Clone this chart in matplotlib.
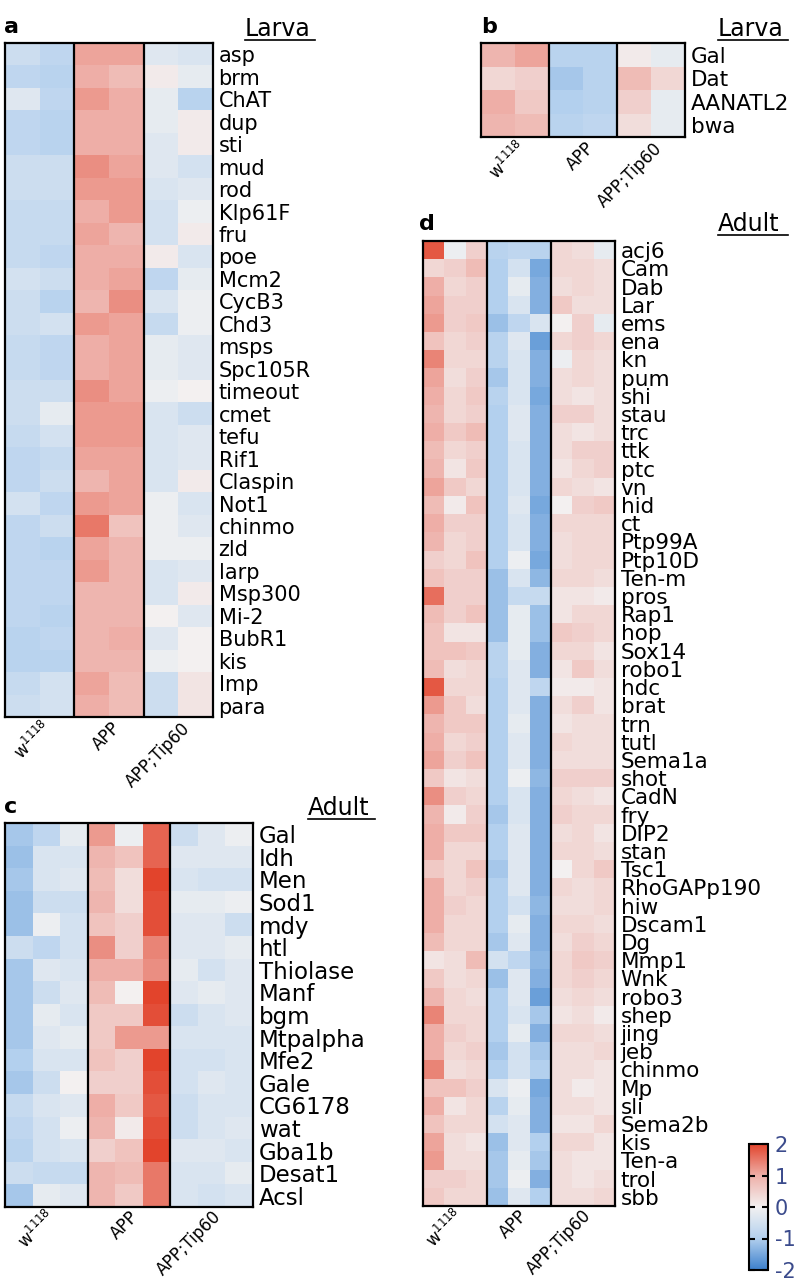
import numpy as np
import matplotlib
matplotlib.use('Agg')
import matplotlib.pyplot as plt
from matplotlib.colors import LinearSegmentedColormap
from matplotlib.lines import Line2D

plt.rcParams['font.family'] = ['DejaVu Sans']

groups = [r'$\mathregular{w^{1118}}$', 'APP', 'APP;Tip60']

# ---------------- Panel a (Larva) ----------------
genes_a = ['asp', 'brm', 'ChAT', 'dup', 'sti', 'mud', 'rod', 'Klp61F', 'fru', 'poe',
           'Mcm2', 'CycB3', 'Chd3', 'msps', 'Spc105R', 'timeout', 'cmet', 'tefu', 'Rif1',
           'Claspin', 'Not1', 'chinmo', 'zld', 'larp', 'Msp300', 'Mi-2', 'BubR1', 'kis',
           'Imp', 'para']
vals_a = [
    [-0.6, -0.8, 1.1, 1.1, -0.3, -0.4],
    [-0.8, -0.9, 1.0, 0.8, 0.1, -0.2],
    [-0.3, -0.8, 1.2, 1.0, -0.2, -0.9],
    [-0.8, -0.9, 1.0, 1.0, -0.2, 0.1],
    [-0.8, -0.9, 1.0, 1.0, -0.3, 0.1],
    [-0.6, -0.6, 1.3, 1.1, -0.3, -0.5],
    [-0.6, -0.6, 1.2, 1.2, -0.4, -0.3],
    [-0.7, -0.7, 1.0, 1.2, -0.5, -0.1],
    [-0.7, -0.7, 1.1, 0.9, -0.5, 0.1],
    [-0.7, -0.8, 1.0, 1.0, 0.1, -0.4],
    [-0.5, -0.6, 1.0, 1.1, -0.8, -0.2],
    [-0.6, -0.9, 0.9, 1.3, -0.4, -0.1],
    [-0.6, -0.5, 1.2, 1.1, -0.7, -0.1],
    [-0.7, -0.8, 1.0, 1.1, -0.2, -0.3],
    [-0.7, -0.8, 1.0, 1.1, -0.2, -0.3],
    [-0.6, -0.6, 1.3, 1.1, -0.1, 0.0],
    [-0.6, -0.2, 1.2, 1.2, -0.4, -0.6],
    [-0.7, -0.5, 1.2, 1.2, -0.4, -0.3],
    [-0.8, -0.7, 1.1, 1.1, -0.4, -0.3],
    [-0.8, -0.6, 0.9, 1.1, -0.4, 0.1],
    [-0.5, -0.8, 1.2, 1.1, -0.1, -0.4],
    [-0.8, -0.6, 1.5, 0.7, -0.1, -0.3],
    [-0.8, -0.9, 1.1, 0.9, -0.1, -0.1],
    [-0.8, -0.8, 1.2, 0.9, -0.4, -0.3],
    [-0.8, -0.8, 0.9, 0.9, -0.4, 0.1],
    [-0.8, -0.9, 0.9, 0.9, 0.0, -0.3],
    [-0.9, -0.8, 0.9, 1.0, -0.3, 0.0],
    [-0.9, -0.9, 0.9, 0.9, -0.1, 0.0],
    [-0.7, -0.5, 1.1, 0.8, -0.6, 0.2],
    [-0.6, -0.5, 1.0, 0.8, -0.6, 0.2],
]

# ---------------- Panel b (Larva) ----------------
genes_b = ['Gal', 'Dat', 'AANATL2', 'bwa']
vals_b = [
    [0.9, 1.1, -0.9, -0.9, 0.1, -0.2],
    [0.4, 0.5, -1.1, -0.9, 0.8, 0.4],
    [1.0, 0.6, -1.0, -0.9, 0.5, -0.2],
    [0.9, 0.8, -0.9, -0.8, 0.3, -0.2],
]

# ---------------- Panel c (Adult) ----------------
genes_c = ['Gal', 'Idh', 'Men', 'Sod1', 'mdy', 'htl', 'Thiolase', 'Manf', 'bgm',
           'Mtpalpha', 'Mfe2', 'Gale', 'CG6178', 'wat', 'Gba1b', 'Desat1', 'Acsl']
vals_c = [
    [-1.1, -0.8, -0.2, 1.2, -0.1, 1.7, -0.6, -0.3, -0.1],
    [-1.2, -0.4, -0.4, 0.9, 0.7, 1.7, -0.3, -0.3, -0.3],
    [-1.1, -0.4, -0.3, 0.8, 0.3, 2.0, -0.4, -0.5, -0.5],
    [-1.2, -0.6, -0.6, 0.9, 0.3, 1.9, -0.2, -0.2, -0.1],
    [-1.2, -0.1, -0.5, 0.7, 0.5, 1.9, -0.3, -0.3, -0.6],
    [-0.6, -0.8, -0.5, 1.3, 0.5, 1.4, -0.3, -0.3, -0.2],
    [-1.1, -0.3, -0.4, 1.0, 1.0, 1.3, -0.2, -0.5, -0.3],
    [-1.1, -0.6, -0.3, 0.8, 0.0, 2.0, -0.3, -0.2, -0.3],
    [-1.1, -0.2, -0.4, 0.6, 0.6, 1.9, -0.6, -0.4, -0.3],
    [-1.1, -0.3, -0.2, 0.6, 1.2, 1.2, -0.4, -0.4, -0.4],
    [-1.0, -0.4, -0.4, 0.7, 0.5, 2.0, -0.5, -0.5, -0.4],
    [-1.1, -0.6, 0.0, 0.5, 0.5, 1.9, -0.5, -0.3, -0.4],
    [-0.7, -0.4, -0.3, 1.0, 0.6, 1.8, -0.6, -0.4, -0.4],
    [-0.8, -0.5, -0.1, 0.9, 0.1, 1.9, -0.6, -0.4, -0.3],
    [-0.9, -0.5, -0.4, 0.5, 0.7, 2.0, -0.3, -0.3, -0.4],
    [-0.6, -0.7, -0.7, 0.9, 0.8, 1.5, -0.4, -0.4, -0.2],
    [-1.1, -0.2, -0.3, 0.9, 0.6, 1.5, -0.4, -0.5, -0.4],
]

# ---------------- Panel d (Adult) ----------------
genes_d = ['acj6', 'Cam', 'Dab', 'Lar', 'ems', 'ena', 'kn', 'pum', 'shi', 'stau',
           'trc', 'ttk', 'ptc', 'vn', 'hid', 'ct', 'Ptp99A', 'Ptp10D', 'Ten-m', 'pros',
           'Rap1', 'hop', 'Sox14', 'robo1', 'hdc', 'brat', 'trn', 'tutl', 'Sema1a', 'shot',
           'CadN', 'fry', 'DIP2', 'stan', 'Tsc1', 'RhoGAPp190', 'hiw', 'Dscam1', 'Dg', 'Mmp1',
           'Wnk', 'robo3', 'shep', 'jing', 'jeb', 'chinmo', 'Mp', 'sli', 'Sema2b', 'kis',
           'Ten-a', 'trol', 'sbb']
vals_d = [
    [1.8, -0.1, 0.5, -0.9, -0.8, -0.9, 0.4, 0.3, -0.2],
    [0.4, 0.5, 0.8, -1.0, -0.5, -1.5, 0.4, 0.4, 0.3],
    [1.0, 0.4, 0.5, -1.0, -0.2, -1.4, 0.3, 0.4, 0.3],
    [1.1, 0.5, 0.5, -1.0, -0.4, -1.4, 0.6, 0.3, 0.3],
    [1.2, 0.5, 0.6, -1.2, -0.8, -0.4, 0.0, 0.5, -0.2],
    [0.7, 0.4, 0.5, -0.9, -0.3, -1.6, 0.4, 0.5, 0.4],
    [1.4, 0.4, 0.4, -0.9, -0.4, -1.4, -0.1, 0.4, 0.3],
    [1.1, 0.3, 0.5, -1.1, -0.4, -1.4, 0.3, 0.4, 0.3],
    [1.0, 0.4, 0.6, -0.9, -0.4, -1.5, 0.3, 0.2, 0.3],
    [0.9, 0.4, 0.5, -1.0, -0.3, -1.4, 0.5, 0.5, 0.3],
    [1.0, 0.6, 0.8, -1.0, -0.3, -1.4, 0.3, 0.2, 0.3],
    [0.8, 0.4, 0.5, -1.0, -0.4, -1.4, 0.3, 0.5, 0.5],
    [0.9, 0.2, 0.6, -1.0, -0.4, -1.4, 0.2, 0.4, 0.5],
    [1.1, 0.6, 0.4, -1.0, -0.4, -1.4, 0.4, 0.3, 0.2],
    [0.8, 0.1, 0.7, -1.0, -0.3, -1.5, 0.0, 0.5, 0.6],
    [1.0, 0.5, 0.5, -1.0, -0.4, -1.4, 0.4, 0.4, 0.4],
    [0.9, 0.4, 0.5, -1.0, -0.4, -1.4, 0.3, 0.4, 0.4],
    [0.5, 0.4, 0.7, -1.0, -0.1, -1.5, 0.3, 0.4, 0.4],
    [0.7, 0.5, 0.5, -1.2, -0.4, -1.3, 0.4, 0.4, 0.3],
    [1.6, 0.5, 0.5, -1.2, -0.7, -0.7, 0.2, 0.2, 0.1],
    [0.8, 0.5, 0.7, -1.2, -0.2, -1.2, 0.2, 0.4, 0.4],
    [0.7, 0.2, 0.2, -1.2, -0.2, -1.2, 0.6, 0.5, 0.4],
    [0.7, 0.7, 0.6, -0.9, -0.2, -1.4, 0.4, 0.4, 0.2],
    [0.8, 0.3, 0.4, -0.9, -0.3, -1.4, 0.2, 0.6, 0.3],
    [1.8, 0.4, 0.4, -1.0, -0.3, -0.8, 0.1, 0.1, 0.2],
    [1.2, 0.6, 0.3, -1.0, -0.3, -1.4, 0.3, 0.5, 0.2],
    [0.9, 0.6, 0.6, -1.0, -0.2, -1.4, 0.2, 0.3, 0.3],
    [1.0, 0.4, 0.5, -1.0, -0.3, -1.4, 0.4, 0.3, 0.3],
    [1.1, 0.5, 0.7, -1.0, -0.3, -1.4, 0.3, 0.3, 0.3],
    [0.6, 0.2, 0.3, -1.0, -0.1, -1.3, 0.5, 0.5, 0.5],
    [1.3, 0.5, 0.4, -1.0, -0.4, -1.4, 0.4, 0.3, 0.2],
    [0.9, 0.1, 0.5, -1.1, -0.4, -1.4, 0.5, 0.4, 0.4],
    [1.0, 0.6, 0.6, -1.0, -0.3, -1.4, 0.3, 0.4, 0.2],
    [1.0, 0.4, 0.4, -1.0, -0.3, -1.4, 0.4, 0.4, 0.3],
    [0.6, 0.4, 0.7, -1.1, -0.3, -1.4, 0.0, 0.4, 0.6],
    [1.0, 0.4, 0.5, -1.0, -0.3, -1.4, 0.4, 0.3, 0.4],
    [1.0, 0.5, 0.4, -1.0, -0.5, -1.3, 0.3, 0.3, 0.4],
    [1.0, 0.4, 0.4, -1.0, -0.2, -1.4, 0.4, 0.4, 0.3],
    [0.8, 0.4, 0.4, -1.1, -0.3, -1.4, 0.3, 0.5, 0.4],
    [0.2, 0.3, 0.8, -0.5, -0.8, -1.3, 0.4, 0.6, 0.5],
    [0.6, 0.3, 0.4, -1.2, -0.3, -1.4, 0.4, 0.5, 0.4],
    [0.9, 0.4, 0.3, -1.0, -0.3, -1.6, 0.3, 0.4, 0.3],
    [1.4, 0.4, 0.4, -1.0, -0.4, -1.1, 0.2, 0.3, 0.1],
    [1.0, 0.5, 0.4, -1.0, -0.2, -1.4, 0.4, 0.4, 0.3],
    [1.0, 0.4, 0.5, -1.1, -0.5, -1.1, 0.3, 0.3, 0.4],
    [1.4, 0.3, 0.4, -1.0, -0.5, -1.0, 0.3, 0.3, 0.2],
    [0.7, 0.7, 0.5, -0.4, -0.1, -1.5, 0.3, 0.1, 0.2],
    [1.0, 0.2, 0.4, -0.9, -0.2, -1.4, 0.3, 0.3, 0.2],
    [0.7, 0.4, 0.4, -0.5, -0.3, -1.4, 0.2, 0.2, 0.4],
    [1.1, 0.3, 0.2, -1.2, -0.3, -1.0, 0.4, 0.4, 0.2],
    [1.2, 0.3, 0.3, -1.1, -0.2, -1.1, 0.3, 0.2, 0.2],
    [0.5, 0.5, 0.4, -1.1, -0.1, -1.4, 0.3, 0.2, 0.3],
    [0.6, 0.4, 0.4, -1.2, -0.3, -1.0, 0.3, 0.3, 0.4],
]

cbar_ticks = [-2, -1, 0, 1, 2]
cbar_labels = ['-2', '-1', '0', '1', '2']

cmap = LinearSegmentedColormap.from_list(
    'bwr_soft', ['#3B7FCB', '#B3D0EE', '#F3F1F1', '#EEAFA8', '#E2442C'])

W, H = 800, 1285
fig = plt.figure(figsize=(W / 100, H / 100), dpi=100)


def px_axes(x0, y0, x1, y1):
    return fig.add_axes([x0 / W, 1 - y1 / H, (x1 - x0) / W, (y1 - y0) / H])


def heat(ax, genes, vals, reps, label_size, tick_size, tick_pad):
    data = np.array(vals)
    nrow, ncol = data.shape
    ax.pcolormesh(np.arange(ncol + 1), np.arange(nrow + 1), data,
                  cmap=cmap, vmin=-2, vmax=2)
    ax.set_xlim(0, ncol)
    ax.set_ylim(nrow, 0)
    for k in (1, 2):
        ax.axvline(k * reps, color='black', lw=1.6)
    ax.yaxis.tick_right()
    ax.set_yticks(np.arange(nrow) + 0.5)
    ax.set_yticklabels(genes, fontsize=label_size)
    ax.tick_params(axis='y', length=0, pad=4)
    ax.set_xticks([reps * (k + 0.5) + 0.25 for k in range(3)])
    ax.set_xticklabels(groups, rotation=45, ha='right', va='center',
                       rotation_mode='anchor', fontsize=tick_size)
    ax.tick_params(axis='x', length=0, pad=tick_pad)
    for s in ax.spines.values():
        s.set_linewidth(1.6)


def ftext(x, y, s, **kw):
    fig.text(x / W, 1 - y / H, s, va='baseline', **kw)


def underline(x0, x1, y):
    fig.add_artist(Line2D([x0 / W, x1 / W], [1 - y / H, 1 - y / H],
                          transform=fig.transFigure, color='black', lw=1.2))


ax_a = px_axes(5, 43, 213, 717)
heat(ax_a, genes_a, vals_a, 2, 15, 12, 6)
ax_b = px_axes(481, 43, 685, 137)
heat(ax_b, genes_b, vals_b, 2, 15.5, 12, 6)
ax_c = px_axes(5, 823, 253, 1207)
heat(ax_c, genes_c, vals_c, 3, 16.5, 12, 5)
ax_d = px_axes(423, 241, 615, 1206)
heat(ax_d, genes_d, vals_d, 3, 15.5, 12, 5)

# panel letters and titles
ftext(4, 33, 'a', fontsize=16, fontweight='bold')
ftext(481, 33, 'b', fontsize=16, fontweight='bold')
ftext(4, 813, 'c', fontsize=16, fontweight='bold')
ftext(419, 230, 'd', fontsize=16, fontweight='bold')

ftext(245, 36, 'Larva', fontsize=17)
underline(245, 315, 40)
ftext(718, 36, 'Larva', fontsize=17)
underline(718, 788, 40)
ftext(308, 815, 'Adult', fontsize=17)
underline(308, 375, 819)
ftext(718, 231, 'Adult', fontsize=17)
underline(718, 788, 235)

# colorbar
cax = px_axes(749, 1144, 768, 1270)
sm = plt.cm.ScalarMappable(cmap=cmap, norm=plt.Normalize(-2, 2))
cb = fig.colorbar(sm, cax=cax)
cb.set_ticks(cbar_ticks)
cb.set_ticklabels(cbar_labels)
cax.tick_params(direction='in', length=4, width=1.5, colors='black',
                labelcolor='#3B4B8C', labelsize=15, left=True, right=True, pad=5)
cb.outline.set_linewidth(1.5)

fig.savefig('out.png', dpi=100)
